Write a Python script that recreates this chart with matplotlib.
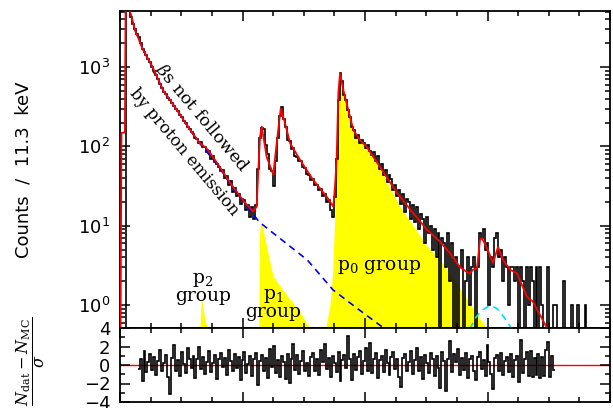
import numpy as np
import matplotlib
matplotlib.use('Agg')
import matplotlib.pyplot as plt
from matplotlib.ticker import MultipleLocator, LogLocator, NullFormatter

# bin width in MeV (one bin of the histogram)
bw = 0.016

# measured counts per bin, starting at 0 MeV
counts = [
    0, 0, 0, 9000, 7200, 4300, 3500, 3050, 2650, 2380,
    1990, 1715, 1540, 1405, 1265, 1150, 1015, 905, 785, 705,
    605, 540, 485, 452, 412, 382, 352, 328, 298, 279,
    250, 238, 212, 199, 178, 167, 150, 143, 128, 123,
    110, 113, 98, 99, 86, 88, 70, 75, 64, 60,
    55, 49, 50, 40, 42, 33, 37, 27, 30, 24,
    25, 19, 22, 21, 16, 18, 13, 17, 12, 18,
    52, 128, 170, 166, 104, 80, 52, 49, 32, 66,
    126, 244, 310, 222, 176, 122, 118, 94, 95, 76,
    74, 66, 66, 55, 54, 45, 44, 38, 39, 33,
    33, 28, 29, 24, 25, 20, 21, 16, 13, 23,
    70, 390, 845, 660, 450, 380, 290, 238, 176, 160,
    128, 141, 109, 122, 112, 95, 104, 88, 79, 86,
    66, 75, 52, 60, 44, 51, 36, 43, 39, 28,
    33, 24, 28, 19, 25, 15, 22, 20, 12, 18,
    11, 17, 9, 14, 12, 6, 13, 8, 10, 5,
    9, 4, 8, 0, 7, 6, 3, 8, 2, 6,
    0, 4, 0, 3, 5, 0, 2, 4, 1, 3,
    4, 0, 3, 8, 7, 9, 5, 6, 1, 4,
    3, 7, 8, 4, 5, 2, 4, 3, 1, 3,
    3, 2, 3, 0, 3, 2, 0, 3, 1, 3,
    2, 0, 3, 0, 3, 1, 0, 0, 3, 0,
    0, 1, 1, 0, 0, 0, 2, 0, 0, 0,
    1, 0, 0, 1, 0, 0, 0, 1, 0, 0,
]

# full simulation (red)
model_x = [0.004, 0.012, 0.040, 0.046, 0.060, 0.070, 0.082, 0.122, 0.188, 0.269,
           0.351, 0.465, 0.571, 0.653, 0.694, 0.720, 0.792, 0.898, 1.004, 1.086,
           1.116, 1.129, 1.143, 1.157, 1.175, 1.197, 1.238, 1.251, 1.279, 1.312,
           1.347, 1.388, 1.469, 1.576, 1.690, 1.741, 1.755, 1.769, 1.782, 1.796,
           1.823, 1.850, 1.905, 1.959, 2.014, 2.122, 2.261, 2.392, 2.506, 2.612,
           2.694, 2.776, 2.833, 2.857, 2.882, 2.914, 2.939, 2.955, 2.996, 3.045,
           3.086, 3.127, 3.184, 3.241, 3.322, 3.371, 3.429, 3.486, 3.520]
model_y = [0.3, 148, 150, 9000, 9000, 8000, 5100, 2950, 1660, 980,
           513, 288, 162, 110, 98, 90, 62, 35, 21, 15,
           17.4, 50, 132, 178, 120, 74, 50, 44, 110, 300,
           198, 110, 68, 38, 23, 17.4, 31, 74, 465, 835,
           515, 350, 161, 120, 99, 55, 26, 14.5, 8.9, 6.3,
           4.5, 3.0, 2.6, 2.5, 2.8, 2.9, 6.6, 7.0, 5.2, 3.4,
           5.4, 3.7, 2.8, 2.5, 1.27, 1.1, 0.75, 0.51, 0.4]

# betas not followed by proton emission (blue dashed)
beta_x = [0.122, 0.188, 0.269, 0.351, 0.465, 0.571, 0.653, 0.792, 0.898, 1.004,
          1.135, 1.249, 1.529, 1.739, 1.935, 2.147]
beta_y = [2950, 1660, 980, 513, 288, 162, 108, 60, 34, 20.5,
          11.2, 8.1, 3.7, 1.55, 0.91, 0.52]

# proton groups (yellow)
p2_x = [0.650, 0.664, 0.690, 0.722]
p2_y = [0.45, 1.27, 0.7, 0.45]
p1_x = [1.133, 1.137, 1.147, 1.160, 1.197, 1.251, 1.361, 1.469, 1.551]
p1_y = [0.4, 7, 10.8, 10.3, 5.4, 2.3, 1.34, 0.82, 0.5]
p0_x = [1.673, 1.714, 1.735, 1.748, 1.755, 1.769, 1.782, 1.796, 1.823, 1.850,
        1.905, 1.959, 2.014, 2.122, 2.200, 2.286, 2.506, 2.637, 2.996]
p0_y = [0.45, 1.0, 2.5, 8, 16, 70, 460, 830, 510, 345,
        158, 117, 96, 52, 31, 17.4, 5.6, 3.3, 0.5]

# small extra component (cyan dashed)
cyan_x = [2.857, 2.900, 2.950, 3.000, 3.034, 3.080, 3.130, 3.180, 3.200]
cyan_y = [0.5, 0.68, 0.85, 0.95, 0.97, 0.9, 0.72, 0.55, 0.5]

# residuals (N_dat - N_MC)/sigma, first bin index 9
res_start = 9
residuals = [
    -0.4, 0.6, -1.7, 1.5, -0.8, 0.3, 1.2, -0.5, 0.9, -1.1,
    0.4, 1.6, -0.7, 0.2, 1.1, -1.3, -3.1, 0.8, 2.2, -0.6,
    0.5, -1.2, 1.4, 0.1, -0.9, 1.8, 0.6, -0.3, 1.0, -1.4,
    0.7, 1.9, -0.4, 0.9, -1.0, 0.3, 1.5, -0.8, 0.2, 1.1,
    -1.5, 0.6, 1.3, -0.2, 0.8, -1.1, 1.6, 0.4, -0.7, 1.2,
    -0.3, 0.9, -1.6, 0.5, 1.4, -0.9, 0.1, 1.0, -1.2, 0.7,
    1.3, -2.2, 0.4, 1.1, -0.6, 0.8, -1.4, 1.7, -0.2, 2.1,
    -0.9, 0.5, -1.3, 1.0, 0.3, -1.5, 1.2, -1.9, 0.6, 2.3,
    -0.5, 1.1, -1.0, 0.4, 1.5, -0.7, 0.2, -1.2, 0.9, 1.3,
    -0.6, 0.7, -1.1, 1.6, 0.3, 2.3, -0.4, 0.8, -1.3, 1.0,
    0.2, -0.8, 1.4, -1.7, 0.5, 1.1, -0.3, 3.1, 0.6, -1.6,
    1.2, -0.5, 0.9, 1.5, -1.0, 0.4, 1.8, -0.6, 2.4, -0.9,
    0.7, 1.3, -1.4, 0.5, 1.0, -0.8, 1.6, 0.2, -1.1, 0.9,
    1.4, -0.4, 0.6, -1.3, -2.4, 0.8, 1.2, -0.7, 0.3, 1.5,
    -1.0, 0.5, 1.8, -0.6, 0.9, -1.5, 1.1, 0.2, -0.9, 1.3,
    0.6, -1.2, 1.0, -0.3, -2.5, 1.4, 0.4, -2.8, 0.7, 2.6,
    -0.8, 1.2, 0.3, 1.7, -1.1, 0.8, -0.5, 1.3, -1.4, 0.6,
    1.0, -0.7, -1.6, 0.9, 1.4, -0.4, 0.5, -1.2, 2.2, 0.3,
    -1.0, -2.6, 0.8, 1.1, -0.6, 1.3, -1.1, 0.4, 0.9, -0.8,
    1.2, -1.3, 0.5, 1.0, -1.8, 2.7, -0.9, 0.6, 1.4, -1.2,
    1.5, -1.3, 0.8, -1.1, 1.2, -1.4, 0.9, -1.2, 1.6, 2.5,
    -1.3, 1.0, -0.5,
]

fig = plt.figure(figsize=(6.13, 4.08), dpi=100)
ax = fig.add_axes([120 / 613, 1 - 328 / 408, 490 / 613, 317 / 408])
axr = fig.add_axes([120 / 613, 1 - 402 / 408, 490 / 613, 74 / 408])

serif = 'DejaVu Serif'

# top panel
ax.set_yscale('log')
ax.fill_between(p2_x, p2_y, 0.1, color='#ffff00', lw=0, zorder=1)
ax.fill_between(p1_x, p1_y, 0.1, color='#ffff00', lw=0, zorder=1)
ax.fill_between(p0_x, p0_y, 0.1, color='#ffff00', lw=0, zorder=1)

c = np.array(counts, dtype=float)
c[c <= 0] = 0.05
edges = np.arange(len(c) + 1) * bw
ax.stairs(c, edges, baseline=None, color='black', lw=1.2, zorder=2)
ax.plot(beta_x, beta_y, color='#0000ff', lw=1.2, ls=(0, (4, 3)), zorder=3)
ax.plot(cyan_x, cyan_y, color='#00e0f0', lw=1.2, ls=(0, (4, 3)), zorder=3)
ax.plot(model_x, model_y, color='#ff0000', lw=1.3, zorder=4)

ax.set_xlim(0, 4)
ax.set_ylim(0.513, 5100)
ax.yaxis.set_major_locator(LogLocator(base=10, numticks=10))
ax.yaxis.set_minor_locator(LogLocator(base=10, subs=np.arange(2, 10), numticks=20))
ax.yaxis.set_minor_formatter(NullFormatter())

ax.text(0.665, 225, r'$\beta$s not followed', rotation=-50, rotation_mode='anchor',
        ha='center', va='center', fontsize=12.5, family=serif, math_fontfamily='dejavuserif')
ax.text(0.522, 85, 'by proton emission', rotation=-50, rotation_mode='anchor',
        ha='center', va='center', fontsize=12, family=serif)
ax.text(0.678, 1.63, 'p$_2$\ngroup', ha='center', va='center', fontsize=13.5,
        family=serif, math_fontfamily='dejavuserif', linespacing=0.9)
ax.text(1.249, 1.03, 'p$_1$\ngroup', ha='center', va='center', fontsize=13.5,
        family=serif, math_fontfamily='dejavuserif', linespacing=0.9)
ax.text(1.771, 3.0, 'p$_0$ group', ha='left', va='center', fontsize=13.5,
        family=serif, math_fontfamily='dejavuserif')

# residual panel
axr.axhline(0, color='#ff0000', lw=1.0, zorder=1)
r_edges = (np.arange(len(residuals) + 1) + res_start) * bw
axr.stairs(residuals, r_edges, baseline=None, color='black', lw=1.2, zorder=2)
axr.set_xlim(0, 4)
axr.set_ylim(-4, 4)
axr.set_yticks([-4, -2, 0, 2, 4])
axr.set_yticklabels(['\u22124', '\u22122', '0', '2', '4'])
axr.yaxis.set_minor_locator(MultipleLocator(1))

for a in (ax, axr):
    a.xaxis.set_major_locator(MultipleLocator(1))
    a.xaxis.set_minor_locator(MultipleLocator(0.25))
    a.tick_params(which='both', direction='in', top=True, right=True,
                  labelbottom=False, width=1.1, labelsize=13, pad=7)
    a.tick_params(which='major', length=7)
    a.tick_params(which='minor', length=3.5)
    for s in a.spines.values():
        s.set_linewidth(1.3)

fig.text(24 / 613, 1 - 170 / 408, 'Counts  /  11.3  keV', rotation=90,
         ha='center', va='center', fontsize=13)
fig.text(31 / 613, 1 - 361 / 408, r'$\dfrac{N_{\rm dat}-N_{\rm MC}}{\sigma}$',
         rotation=90, ha='center', va='center', fontsize=11.5,
         math_fontfamily='dejavuserif')

fig.savefig('out.png', dpi=100)
